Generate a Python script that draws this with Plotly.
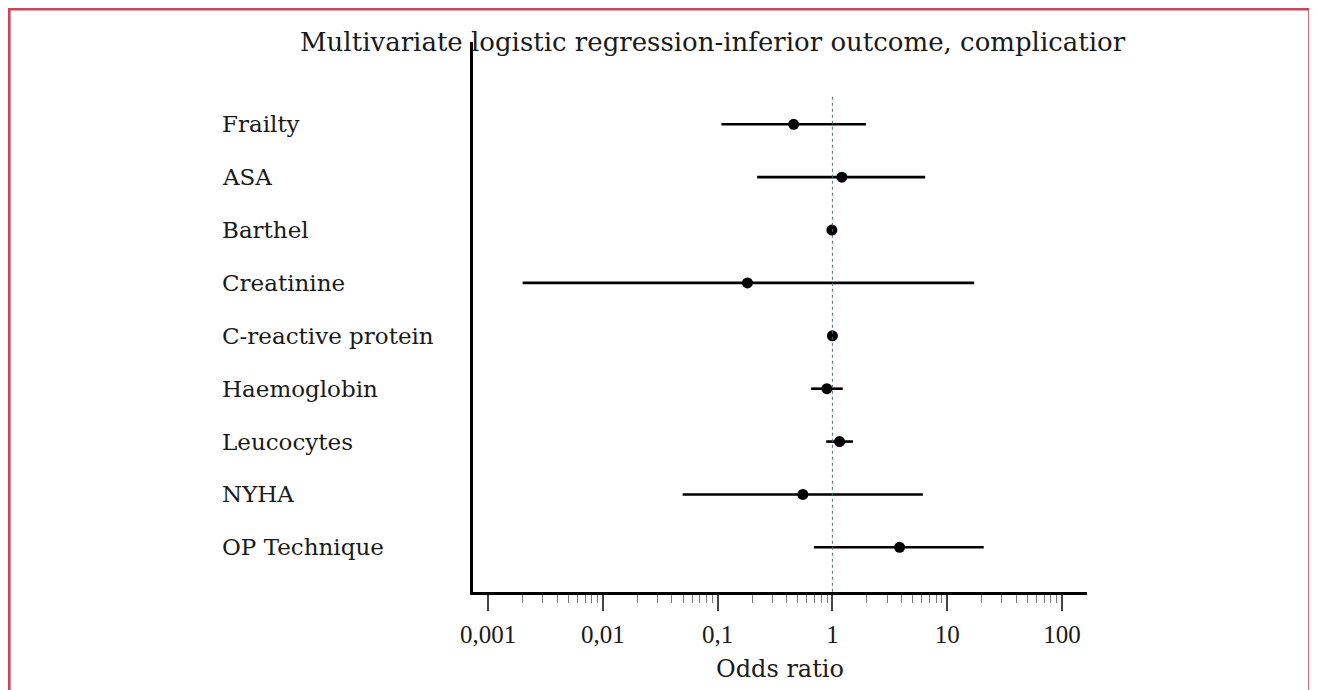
import plotly.graph_objects as go

variables = ["Frailty", "ASA", "Barthel", "Creatinine", "C-reactive protein",
             "Haemoglobin", "Leucocytes", "NYHA", "OP Technique"]
odds_ratio = [0.46, 1.21, 0.99, 0.182, 1.00, 0.895, 1.155, 0.553, 3.85]
ci_lower = [0.108, 0.221, 0.97, 0.0020, 0.98, 0.653, 0.883, 0.0496, 0.690]
ci_upper = [1.96, 6.43, 1.01, 17.2, 1.02, 1.23, 1.51, 6.14, 20.8]
tick_values = [0.001, 0.01, 0.1, 1, 10, 100]
tick_labels = ["0,001", "0,01", "0,1", "1", "10", "100"]
title_text = "Multivariate logistic regression-inferior outcome, complicatior"
x_title = "Odds ratio"

OFF = 8  # page body margin
W, H = 1317 - OFF, 690 - OFF
# plot area in screen pixels
SL, SR, ST, SB = 473, 1087, 42, 592
L, R, T, B = SL - OFF, SR - OFF, ST - OFF, SB - OFF
FONT = "DejaVu Serif"
TICKFONT = "Liberation Serif"
TEXT = "#1a1a1a"
FRAME = "#c8465a"


def px_x(sx):
    return (sx - SL) / (SR - SL)


def px_y(sy):
    return (SB - sy) / (SB - ST)


rows = list(range(len(variables)))
minor_vals = [m * 10.0 ** e for e in range(-3, 2) for m in range(2, 10)]

fig = go.Figure()
fig.add_trace(go.Scatter(
    x=odds_ratio, y=rows, mode="markers",
    marker=dict(size=11, color="black"),
    error_x=dict(type="data", symmetric=False,
                 array=[u - o for u, o in zip(ci_upper, odds_ratio)],
                 arrayminus=[o - l for o, l in zip(odds_ratio, ci_lower)],
                 width=0, thickness=2.6, color="black"),
    showlegend=False, hoverinfo="skip"))

fig.add_shape(type="line", xref="x", yref="y", x0=1, x1=1, y0=-0.52, y1=8.845,
              line=dict(color="#4a6a8a", width=1, dash="dot"))

for i, v in enumerate(variables):
    fig.add_annotation(x=px_x(220), xref="paper", y=i, yref="y",
                       text=v, showarrow=False, xanchor="left", yanchor="middle",
                       font=dict(family=FONT, size=23, color=TEXT))

fig.add_annotation(x=px_x(713), xref="paper", y=px_y(42), yref="paper",
                   text=title_text, showarrow=False, xanchor="center", yanchor="middle",
                   font=dict(family=FONT, size=26, color=TEXT))

# red frame (left, top, right)
frame_lines = [
    (9.3, 9.3, 9, 700),
    (8, 1310, 9.3, 9.3),
    (1309.5, 1309.5, 9, 700),
]
for x0, x1, y0, y1 in frame_lines:
    fig.add_shape(type="line", xref="paper", yref="paper",
                  x0=px_x(x0), x1=px_x(x1), y0=px_y(y0), y1=px_y(y1),
                  line=dict(color=FRAME, width=2.6), layer="above")

fig.update_layout(
    width=W, height=H,
    margin=dict(l=L, r=W - R, t=T, b=H - B, autoexpand=False),
    paper_bgcolor="white", plot_bgcolor="white",
    font=dict(family=FONT, size=22, color=TEXT),
    xaxis=dict(type="log", range=[-3.131, 2.218], tickmode="array",
               tickvals=tick_values, ticktext=tick_labels,
               showline=True, linecolor="black", linewidth=2.6,
               ticks="outside", ticklen=16, tickwidth=2.2, tickcolor="#444",
               ticklabelstandoff=2,
               showgrid=False, zeroline=False,
               tickfont=dict(family=TICKFONT, size=25, color=TEXT),
               title=dict(text=x_title, font=dict(family=FONT, size=24, color=TEXT), standoff=14),
               minor=dict(tickmode="array", tickvals=minor_vals, ticks="outside",
                          ticklen=8, tickwidth=1, tickcolor="#777", showgrid=False)),
    yaxis=dict(range=[8.845, -1.556], showline=True, linecolor="black", linewidth=2.6,
               showticklabels=False, ticks="", showgrid=False, zeroline=False),
)

fig.write_html("out.html")
